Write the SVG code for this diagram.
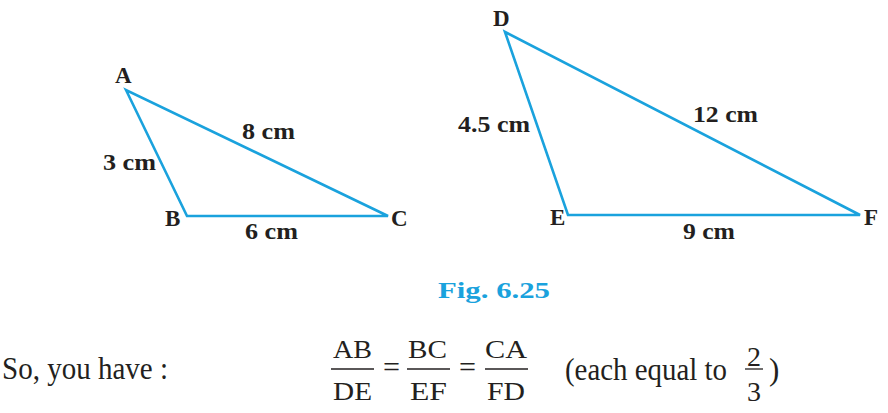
<svg xmlns="http://www.w3.org/2000/svg" width="888" height="413" viewBox="0 0 888 413">
<style>
.edge{fill:none;stroke:#1aa2dd;stroke-width:2.6;stroke-linejoin:miter}
.lbl{font-family:"Liberation Serif","Times New Roman",serif;font-weight:bold;font-size:23px;fill:#231f20}
.txt{font-family:"Liberation Serif","Times New Roman",serif;font-size:31px;fill:#231f20}
.frac{font-family:"Liberation Serif","Times New Roman",serif;font-size:25px;fill:#231f20}
.num{font-family:"Liberation Serif","Times New Roman",serif;font-size:28px;fill:#231f20}
.eq{font-family:"Liberation Serif","Times New Roman",serif;font-size:30px;fill:#231f20}
.bar{stroke:#231f20;stroke-width:1.3}
.cap{font-family:"Liberation Serif","Times New Roman",serif;font-weight:bold;font-size:24px;fill:#1aa2dd}
</style>
<rect width="888" height="413" fill="#ffffff"/>
<g id="connectors">
<polygon class="edge" points="126,90 187,216 388,216"/>
<polygon class="edge" points="505,32 568,215 860,215"/>
</g>
<g id="node-A"><text class="lbl" x="115" y="83">A</text></g>
<g id="node-B"><text class="lbl" x="165" y="226">B</text></g>
<g id="node-C"><text class="lbl" x="391" y="226">C</text></g>
<g id="node-D"><text class="lbl" x="493" y="26">D</text></g>
<g id="node-E"><text class="lbl" x="550" y="225">E</text></g>
<g id="node-F"><text class="lbl" x="864" y="225">F</text></g>
<g id="edge-labels">
<text class="lbl" x="242" y="139" textLength="53" lengthAdjust="spacingAndGlyphs">8 cm</text>
<text class="lbl" x="103" y="170" textLength="53" lengthAdjust="spacingAndGlyphs">3 cm</text>
<text class="lbl" x="245" y="239" textLength="53" lengthAdjust="spacingAndGlyphs">6 cm</text>
<text class="lbl" x="458" y="132" textLength="72" lengthAdjust="spacingAndGlyphs">4.5 cm</text>
<text class="lbl" x="693" y="122" textLength="65" lengthAdjust="spacingAndGlyphs">12 cm</text>
<text class="lbl" x="683" y="239" textLength="52" lengthAdjust="spacingAndGlyphs">9 cm</text>
</g>
<g id="caption"><text class="cap" x="438" y="298" textLength="112" lengthAdjust="spacingAndGlyphs">Fig.  6.25</text></g>
<g id="equation">
<text class="txt" x="2" y="379" textLength="166" lengthAdjust="spacingAndGlyphs">So, you have :</text>
<text class="frac" x="333" y="358" textLength="39" lengthAdjust="spacingAndGlyphs">AB</text>
<line class="bar" x1="331" y1="369" x2="374" y2="369"/>
<text class="frac" x="333" y="400" textLength="39" lengthAdjust="spacingAndGlyphs">DE</text>
<text class="eq" x="383" y="377" textLength="17" lengthAdjust="spacingAndGlyphs">=</text>
<text class="frac" x="408" y="358" textLength="39" lengthAdjust="spacingAndGlyphs">BC</text>
<line class="bar" x1="407" y1="369" x2="450" y2="369"/>
<text class="frac" x="410" y="400" textLength="37" lengthAdjust="spacingAndGlyphs">EF</text>
<text class="eq" x="459" y="377" textLength="17" lengthAdjust="spacingAndGlyphs">=</text>
<text class="frac" x="485" y="358" textLength="42" lengthAdjust="spacingAndGlyphs">CA</text>
<line class="bar" x1="485" y1="369" x2="528" y2="369"/>
<text class="frac" x="487" y="400" textLength="38" lengthAdjust="spacingAndGlyphs">FD</text>
<text class="txt" x="565" y="380" textLength="162" lengthAdjust="spacingAndGlyphs">(each equal to</text>
<text class="num" x="754" y="366" text-anchor="middle">2</text>
<line class="bar" x1="745" y1="369" x2="763" y2="369"/>
<text class="num" x="754" y="401" text-anchor="middle">3</text>
<text class="txt" x="769" y="380">)</text>
</g>
</svg>
